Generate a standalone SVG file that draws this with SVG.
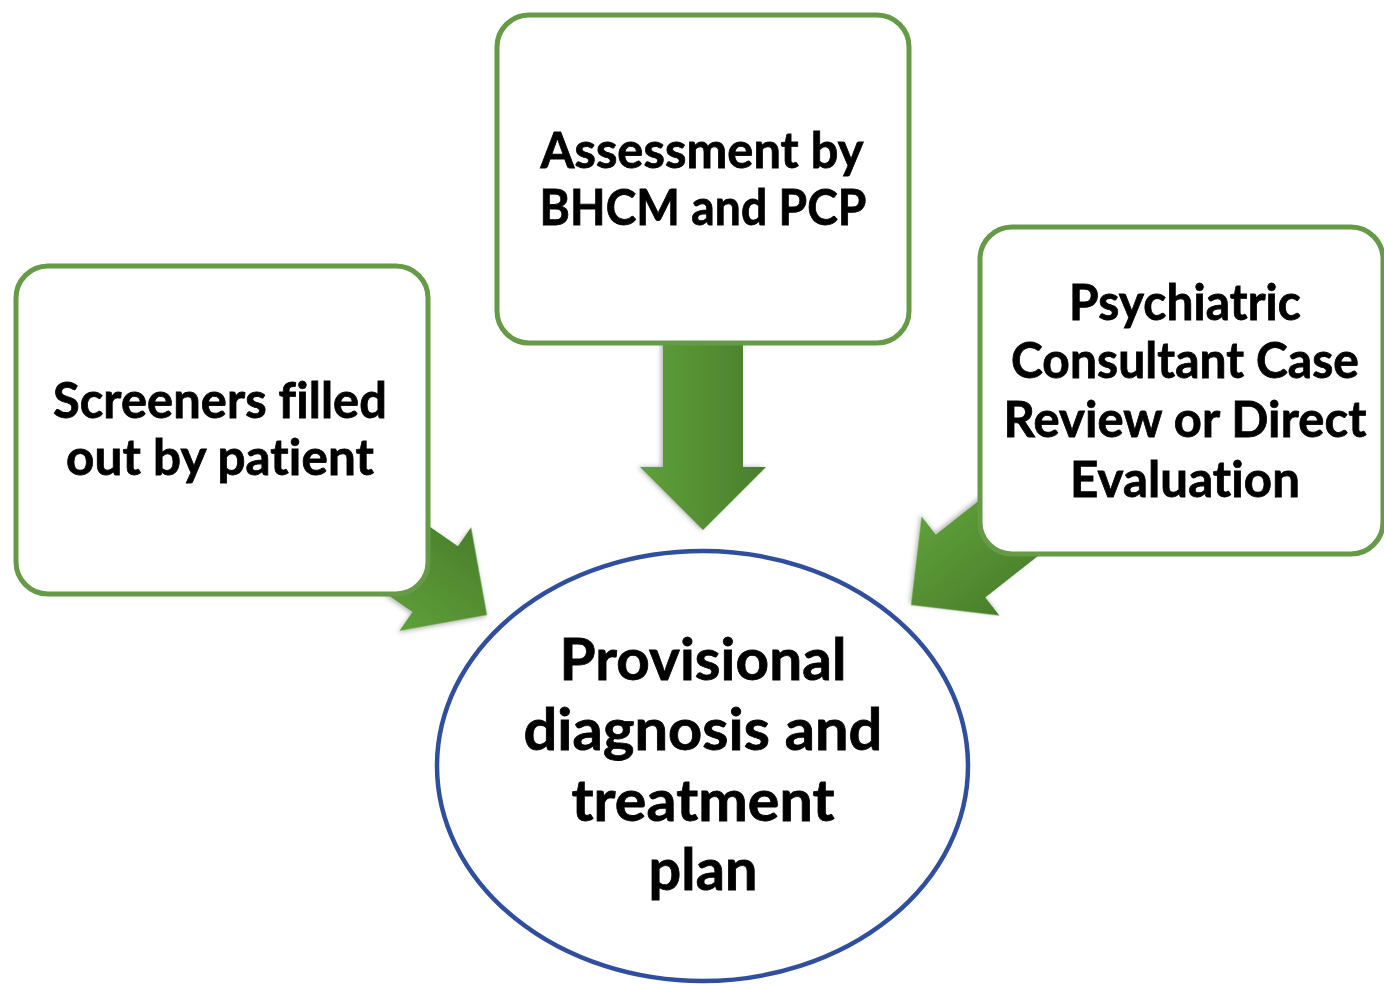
<svg xmlns="http://www.w3.org/2000/svg" width="1384" height="984" viewBox="0 0 1384 984">
  <style>
    .box { fill: #ffffff; stroke: #659A46; stroke-width: 5; }
    .hub { fill: #ffffff; stroke: #2F4E9E; stroke-width: 4.5; }
    .arrow { fill: url(#arrowFill); filter: url(#arrowShadow); }
    .label { font-family: "Lato", "Open Sans", "Liberation Sans", sans-serif; font-weight: bold; fill: #000000; stroke: #000000; stroke-width: 0.8; text-anchor: middle; letter-spacing: 0.1px; font-variant-ligatures: none; font-feature-settings: "liga" 0, "clig" 0, "dlig" 0, "calt" 0; }
    .small { font-size: 50px; }
    .big { font-size: 58px; }
  </style>
  <defs>
    <!-- shading runs across the arrow width, in each arrow's own frame -->
    <linearGradient id="arrowFill" gradientUnits="userSpaceOnUse" x1="0" y1="63" x2="0" y2="-63">
      <stop offset="0" stop-color="#5FA03A"/>
      <stop offset="1" stop-color="#4A7E2B"/>
    </linearGradient>
    <filter id="arrowShadow" x="-20%" y="-20%" width="140%" height="140%">
      <feDropShadow dx="0" dy="2" stdDeviation="2.5" flood-color="#000000" flood-opacity="0.3"/>
    </filter>
    <!-- block arrow, tip at the origin, pointing along +x -->
    <path id="blockArrow" d="M0,0 L-63,63 L-63,40 L-210,40 L-210,-40 L-63,-40 L-63,-63 Z"/>
  </defs>

  <!-- connectors sit under the boxes so their tails are hidden -->
  <g id="connectors">
    <use href="#blockArrow" class="arrow" transform="translate(487,615) rotate(34.7)"/>
    <use href="#blockArrow" class="arrow" transform="translate(703,530) rotate(90)"/>
    <use href="#blockArrow" class="arrow" transform="translate(911,605) rotate(141.8)"/>
  </g>

  <g id="screeners">
    <rect class="box" x="16" y="266" width="412" height="328" rx="32" ry="32"/>
    <text class="label small" x="220" y="418" textLength="334" lengthAdjust="spacingAndGlyphs">Screeners filled</text>
    <text class="label small" x="220" y="475" textLength="308" lengthAdjust="spacingAndGlyphs">out by patient</text>
  </g>

  <g id="assessment">
    <rect class="box" x="497" y="15" width="412" height="328" rx="32" ry="32"/>
    <text class="label small" x="702" y="168" textLength="323" lengthAdjust="spacingAndGlyphs">Assessment by</text>
    <text class="label small" x="703" y="225" textLength="327" lengthAdjust="spacingAndGlyphs">BHCM and PCP</text>
  </g>

  <g id="psychiatric">
    <rect class="box" x="980" y="227" width="403" height="327" rx="32" ry="32"/>
    <text class="label small" x="1185" y="320" textLength="232" lengthAdjust="spacingAndGlyphs">Psychiatric</text>
    <text class="label small" x="1185" y="378" textLength="348" lengthAdjust="spacingAndGlyphs">Consultant Case</text>
    <text class="label small" x="1185" y="437" textLength="363" lengthAdjust="spacingAndGlyphs">Review or Direct</text>
    <text class="label small" x="1185" y="497" textLength="230" lengthAdjust="spacingAndGlyphs">Evaluation</text>
  </g>

  <g id="plan">
    <ellipse class="hub" cx="702.5" cy="766" rx="265.5" ry="215"/>
    <text class="label big" x="703" y="680" textLength="287" lengthAdjust="spacingAndGlyphs">Provisional</text>
    <text class="label big" x="703" y="750" textLength="359" lengthAdjust="spacingAndGlyphs">diagnosis and</text>
    <text class="label big" x="703" y="821" textLength="263" lengthAdjust="spacingAndGlyphs">treatment</text>
    <text class="label big" x="703" y="890" textLength="109" lengthAdjust="spacingAndGlyphs">plan</text>
  </g>
</svg>
